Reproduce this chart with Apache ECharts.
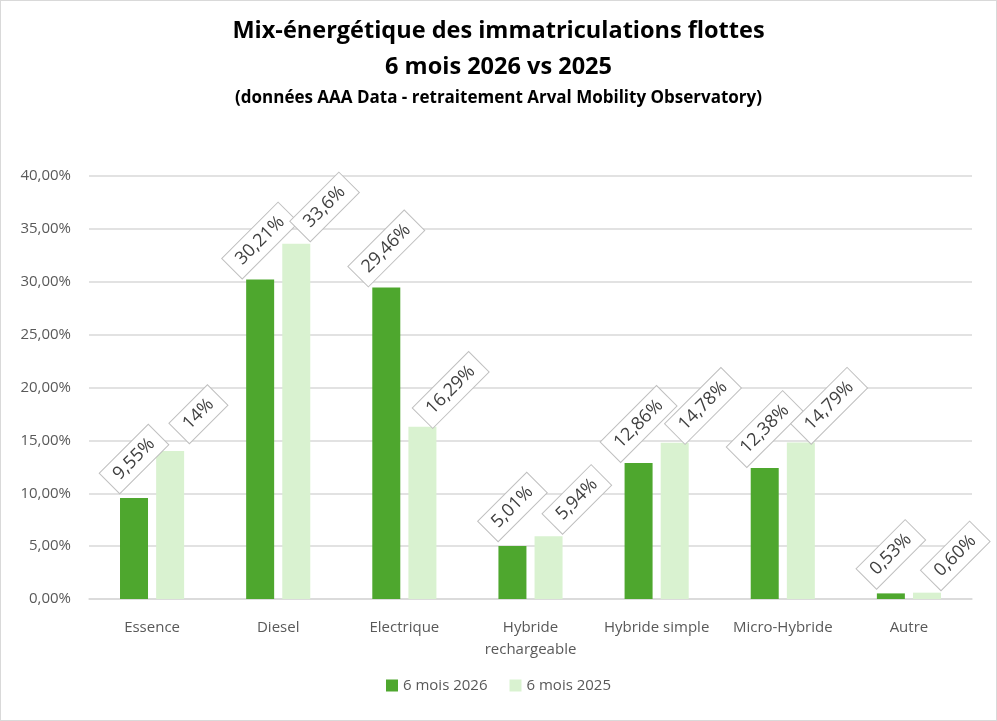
<!DOCTYPE html>
<html>
<head>
<meta charset="utf-8">
<script src="https://cdn.jsdelivr.net/npm/echarts@6/dist/echarts.min.js"></script>
<style>
  html, body { margin: 0; padding: 0; background: #fff; }
  #chart { width: 995px; height: 719px; border: 1px solid #d9d9d9; }
</style>
</head>
<body>
<div id="chart"></div>
<script>
// categories et valeurs (en %)
var categories = ['Essence', 'Diesel', 'Electrique', 'Hybride\nrechargeable', 'Hybride simple', 'Micro-Hybride', 'Autre'];
var serie2026 = [9.55, 30.21, 29.46, 5.01, 12.86, 12.38, 0.53];
var serie2025 = [14, 33.6, 16.29, 5.94, 14.78, 14.79, 0.60];
var labels2026 = ['9,55%', '30,21%', '29,46%', '5,01%', '12,86%', '12,38%', '0,53%'];
var labels2025 = ['14%', '33,6%', '16,29%', '5,94%', '14,78%', '14,79%', '0,60%'];
var seriesNames = ['6 mois 2026', '6 mois 2025'];

var chart = echarts.init(document.getElementById('chart'));

// étiquette inclinée à 45° avec cadre gris (offset exprimé dans le repère tourné)
function makeLabel(texts, distance, offset) {
  return {
    show: true,
    position: 'top',
    distance: distance,
    offset: offset,
    rotate: 45,
    align: 'center',
    verticalAlign: 'middle',
    color: '#404040',
    fontSize: 18,
    fontFamily: 'Open Sans',
    backgroundColor: '#fff',
    borderColor: '#bfbfbf',
    borderWidth: 1,
    padding: [5, 9],
    formatter: function (p) { return texts[p.dataIndex]; }
  };
}

var option = {
  animation: false,
  textStyle: { fontFamily: 'Open Sans' },
  title: [{
    text: 'Mix-énergétique des immatriculations flottes',
    left: 'center', top: 13,
    textStyle: { fontSize: 23.5, fontWeight: 'bold', color: '#000', fontFamily: 'Open Sans' }
  }, {
    text: '6 mois 2026 vs 2025',
    left: 'center', top: 49,
    textStyle: { fontSize: 23.5, fontWeight: 'bold', color: '#000', fontFamily: 'Open Sans' }
  }, {
    text: '(données AAA Data - retraitement Arval Mobility Observatory)',
    left: 'center', top: 84,
    textStyle: { fontSize: 17, fontWeight: 'bold', color: '#000', fontFamily: 'Open Sans' }
  }],
  legend: {
    bottom: 22,
    left: 'center',
    itemWidth: 12,
    itemHeight: 12,
    itemGap: 22,
    icon: 'rect',
    textStyle: { fontSize: 15, color: '#595959' },
    data: seriesNames
  },
  grid: { left: 88, right: 24, top: 175, bottom: 121 },
  xAxis: {
    type: 'category',
    data: categories,
    axisTick: { show: false },
    axisLine: { lineStyle: { color: '#d9d9d9', width: 1.5 } },
    axisLabel: { color: '#595959', fontSize: 15, margin: 18, lineHeight: 22, interval: 0 }
  },
  yAxis: {
    type: 'value',
    min: 0,
    max: 40,
    interval: 5,
    axisLabel: {
      color: '#595959', fontSize: 15, margin: 18,
      formatter: function (v) { return v.toFixed(2).replace('.', ',') + '%'; }
    },
    splitLine: { lineStyle: { color: '#d9d9d9', width: 1.5 } }
  },
  series: [{
    name: seriesNames[0],
    type: 'bar',
    data: serie2026,
    barWidth: 28,
    barGap: '29%',
    itemStyle: { color: '#4ea72e' },
    label: makeLabel(labels2026, 39, [0, 0])
  }, {
    name: seriesNames[1],
    type: 'bar',
    data: serie2025,
    barWidth: 28,
    itemStyle: { color: '#d9f2d0' },
    label: makeLabel(labels2025, 0, [46, -6])
  }]
};

chart.setOption(option);
</script>
</body>
</html>
